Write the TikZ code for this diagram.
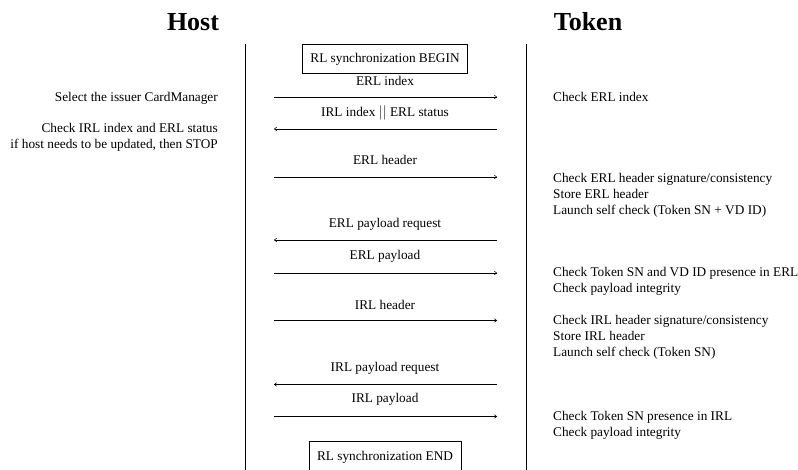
\documentclass[tikz,border=0pt]{standalone}
\usepackage{fontspec}
\setmainfont{Liberation Serif}
\usetikzlibrary{arrows.meta}
\begin{document}
\begin{tikzpicture}[x=1pt,y=-1pt,
  every node/.style={font=\fontsize{13.3}{16}\selectfont, inner sep=0pt},
  title/.style={font=\fontsize{26}{30}\selectfont\bfseries},
  lifeline/.style={line width=0.8pt},
  phasebox/.style={draw, line width=0.6pt, inner xsep=8pt, inner ysep=8pt, text height=11pt, text depth=2pt},
  msg/.style={line width=0.5pt, -{To[length=3pt,width=4pt]}},
  lbl/.style={anchor=center},
  hnote/.style={anchor=base east, align=right},
  tnote/.style={anchor=base west, align=left}]
\useasboundingbox (0,0) rectangle (798,470);
% titles
\node[title] (host) at (193,22) {Host};
\node[title] (token) at (588,22) {Token};
% lifelines
\coordinate (hTop) at (245,44); \coordinate (hBot) at (245,470);
\coordinate (tTop) at (526,44); \coordinate (tBot) at (526,470);
\draw[lifeline] (hTop) -- (hBot);
\draw[lifeline] (tTop) -- (tBot);
% boxes
\node[phasebox] (begin) at (385,58.5) {RL synchronization BEGIN};
\node[phasebox] (end) at (385,455.5) {RL synchronization END};
% message endpoints
\foreach \n/\y in {1/97,2/129,3/177,4/240,5/273,6/320.5,7/384.5,8/416.5}{
  \coordinate (h\n) at (274,\y);
  \coordinate (t\n) at (497,\y);
}
% labels
\node[lbl] (l1) at (385,81) {ERL index};
\node[lbl] (l2) at (385,113) {IRL index $||$ ERL status};
\node[lbl] (l3) at (385,160) {ERL header};
\node[lbl] (l4) at (385,224) {ERL payload request};
\node[lbl] (l5) at (385,256) {ERL payload};
\node[lbl] (l6) at (385,305) {IRL header};
\node[lbl] (l7) at (385,368) {IRL payload request};
\node[lbl] (l8) at (385,399.5) {IRL payload};
% arrows
\draw[msg] (h1) -- (t1);
\draw[msg] (t2) -- (h2);
\draw[msg] (h3) -- (t3);
\draw[msg] (t4) -- (h4);
\draw[msg] (h5) -- (t5);
\draw[msg] (h6) -- (t6);
\draw[msg] (t7) -- (h7);
\draw[msg] (h8) -- (t8);
% host notes
\node[hnote] (hn1) at (218,101.5) {Select the issuer CardManager};
\node[hnote] (hn2) at (218,148.5) {Check IRL index and ERL status\\if host needs to be updated, then STOP};
% token notes
\node[tnote] (tn1) at (553,101.5) {Check ERL index};
\node[tnote] (tn2) at (553,214.5) {Check ERL header signature/consistency\\Store ERL header\\Launch self check (Token SN + VD ID)};
\node[tnote] (tn3) at (553,292.5) {Check Token SN and VD ID presence in ERL\\Check payload integrity};
\node[tnote] (tn4) at (553,356.5) {Check IRL header signature/consistency\\Store IRL header\\Launch self check (Token SN)};
\node[tnote] (tn5) at (553,436.5) {Check Token SN presence in IRL\\Check payload integrity};
\end{tikzpicture}
\end{document}
